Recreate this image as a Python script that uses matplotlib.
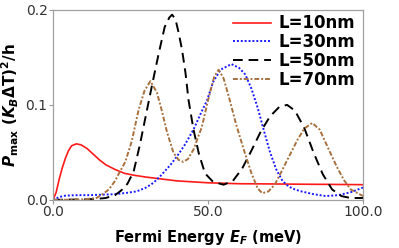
import matplotlib
matplotlib.use('Agg')
import matplotlib.pyplot as plt

# L = 10 nm
e_10 = [0, 1, 2, 3, 4, 5, 6, 7.5, 9, 11, 13, 15, 17, 20, 23, 26, 30, 35, 40,
        50, 60, 70, 80, 90, 100]
p_10 = [0, 0.008, 0.022, 0.034, 0.044, 0.052, 0.057, 0.059, 0.058, 0.054,
        0.048, 0.042, 0.037, 0.032, 0.028, 0.026, 0.024, 0.022, 0.020,
        0.018, 0.017, 0.0168, 0.0165, 0.0163, 0.016]

# L = 30 nm
e_30 = [0, 2, 4, 8, 12, 16, 20, 24, 27, 30, 32.4, 34.6, 37.9, 40, 42.5, 45.3,
        47.5, 49.7, 51.6, 54, 57.5, 60, 62, 64, 66, 68, 70, 72, 74, 76, 78,
        80, 84, 88, 92, 96, 100]
p_30 = [0, 0.003, 0.0045, 0.005, 0.005, 0.0055, 0.006, 0.0075, 0.009, 0.013,
        0.018, 0.025, 0.037, 0.046, 0.058, 0.074, 0.090, 0.105, 0.124, 0.137,
        0.143, 0.139, 0.132, 0.117, 0.097, 0.073, 0.050, 0.032, 0.020, 0.014,
        0.011, 0.009, 0.006, 0.004, 0.005, 0.008, 0.013]

# L = 50 nm
e_50 = [0, 5, 10, 14, 17, 20, 22, 24, 26, 28, 30, 32, 34, 36, 37.5, 38.4,
        39.5, 40.5, 41.6, 42.7, 43.7, 45.3, 47, 49, 51.6, 55, 58, 61, 64, 67,
        70, 73, 75.5, 78, 81, 84, 87, 90, 93, 96, 100]
p_50 = [0, 0.0002, 0.0005, 0.001, 0.002, 0.005, 0.010, 0.017, 0.030, 0.058,
        0.090, 0.122, 0.153, 0.182, 0.192, 0.195, 0.190, 0.176, 0.158, 0.134,
        0.105, 0.074, 0.049, 0.028, 0.019, 0.016, 0.020, 0.033, 0.052, 0.072,
        0.088, 0.098, 0.100, 0.094, 0.076, 0.050, 0.027, 0.011, 0.004, 0.002,
        0.002]

# L = 70 nm
e_70 = [0, 5, 10, 14, 16, 18, 20, 21.6, 23.3, 25.4, 27.6, 29.5, 31.4, 33.5,
        35, 36.7, 38.8, 40.5, 42, 43.5, 45.3, 48, 50, 52, 53.4, 55, 57, 59,
        61.5, 64, 66, 67.5, 69.5, 71.5, 73.4, 76, 78.8, 81, 83.6, 86, 89.5,
        91.5, 93.8, 96, 100]
p_70 = [0, 0.0002, 0.0006, 0.002, 0.006, 0.011, 0.020, 0.030, 0.040, 0.062,
        0.095, 0.115, 0.125, 0.113, 0.095, 0.072, 0.050, 0.042, 0.040, 0.043,
        0.053, 0.077, 0.105, 0.130, 0.137, 0.128, 0.105, 0.080, 0.053, 0.028,
        0.012, 0.007, 0.009, 0.016, 0.028, 0.045, 0.063, 0.075, 0.081, 0.074,
        0.049, 0.035, 0.021, 0.011, 0.004]

x_ticks = [0, 50, 100]
x_labels = ['0.0', '50.0', '100.0']
y_ticks = [0, 0.1, 0.2]
y_labels = ['0.0', '0.1', '0.2']

plt.rcParams['mathtext.fontset'] = 'custom'
plt.rcParams['mathtext.rm'] = 'DejaVu Sans:bold'
plt.rcParams['mathtext.it'] = 'DejaVu Sans:bold:italic'
plt.rcParams['mathtext.bf'] = 'DejaVu Sans:bold'

fig = plt.figure(figsize=(3.99, 2.48), dpi=100)
ax = fig.add_axes([0.133, 0.194, 0.777, 0.766])

ax.plot(e_10, p_10, color='#ff1a1a', lw=1.2, label='L=10nm')
ax.plot(e_30, p_30, color='#1a1aff', lw=1.4, ls=(0, (1, 1)), label='L=30nm')
ax.plot(e_50, p_50, color='black', lw=1.4, ls=(0, (5, 3)), label='L=50nm')
ax.plot(e_70, p_70, color='#a8713f', lw=1.4, ls=(0, (2.5, 1, 1, 1)),
        label='L=70nm')

ax.set_xlim(0, 100)
ax.set_ylim(0, 0.2)
ax.set_xticks(x_ticks)
ax.set_xticklabels(x_labels)
ax.set_yticks(y_ticks)
ax.set_yticklabels(y_labels)
ax.tick_params(direction='out', length=3, width=0.8, color='#999999',
               labelsize=10, labelcolor='#333333', pad=1)
for s in ax.spines.values():
    s.set_color('#a0a0a0')
    s.set_linewidth(0.9)

ax.set_xlabel(r'Fermi Energy $E_F$ (meV)', fontsize=10.5, fontweight='bold',
              labelpad=6)
ax.set_ylabel(r'$P_{\rm max}$ $(K_B\Delta$T$)^2$/h', fontsize=11,
              fontweight='bold', labelpad=3)

leg = ax.legend(loc='upper right', bbox_to_anchor=(1.0, 1.02), frameon=False,
                prop={'weight': 'bold', 'size': 12}, handlelength=2.3,
                handletextpad=0.4, labelspacing=0.05, borderaxespad=0.1)

fig.savefig('out.png', dpi=100)
